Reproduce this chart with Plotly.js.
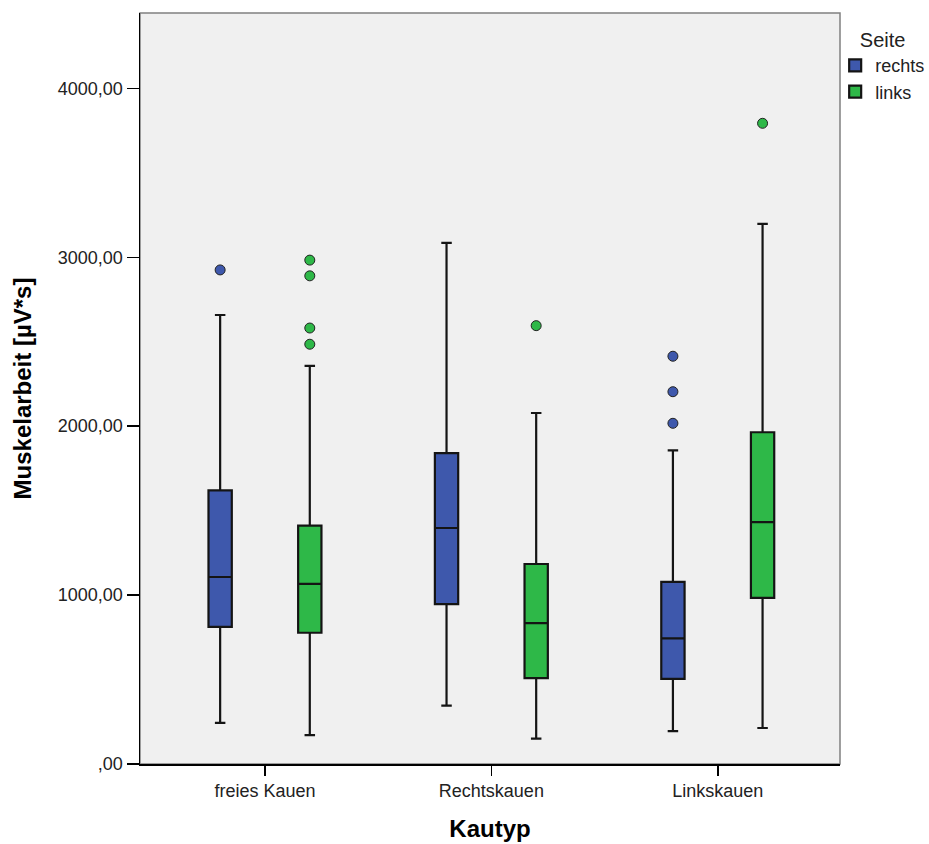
<!DOCTYPE html>
<html>
<head>
<meta charset="utf-8">
<script src="https://cdn.plot.ly/plotly-3.0.1.min.js"></script>
<style>
  html, body { margin: 0; padding: 0; background: #ffffff; }
  #chart { width: 929px; height: 844px; }
</style>
</head>
<body>
<div id="chart"></div>
<script>
// Muskelarbeit je Kautyp, getrennt nach Seite (rechts / links)
const categories = ['freies Kauen', 'Rechtskauen', 'Linkskauen'];

// Seite: rechts
const rechtsLower  = [244, 346, 195];
const rechtsQ1     = [812, 946, 504];
const rechtsMedian = [1107, 1397, 744];
const rechtsQ3     = [1620, 1841, 1078];
const rechtsUpper  = [2658, 3085, 1857];
const rechtsOutliers = [[2925], [], [2414, 2204, 2017]];

// Seite: links
const linksLower  = [171, 150, 213];
const linksQ1     = [777, 508, 984];
const linksMedian = [1066, 834, 1432];
const linksQ3     = [1411, 1184, 1964];
const linksUpper  = [2357, 2078, 3198];
const linksOutliers = [[2983, 2890, 2581, 2485], [2595], [3793]];

const yTickVals = [0, 1000, 2000, 3000, 4000];
const yTickText = [',00', '1000,00', '2000,00', '3000,00', '4000,00'];

const blue = '#3E58AC';
const green = '#2EB848';
const edge = '#141414';

function boxTrace(name, color, lower, q1, med, q3, upper, pts) {
  return {
    type: 'box',
    name: name,
    x: categories,
    q1: q1,
    median: med,
    q3: q3,
    lowerfence: lower,
    upperfence: upper,
    y: pts,
    boxpoints: 'outliers',
    pointpos: 0,
    jitter: 0,
    whiskerwidth: 0.45,
    fillcolor: color,
    line: { color: edge, width: 2.2 },
    marker: {
      color: color,
      size: 10,
      symbol: 'circle',
      line: { color: '#222222', width: 1 }
    },
    hoverinfo: 'skip'
  };
}

const data = [
  boxTrace('rechts', blue, rechtsLower, rechtsQ1, rechtsMedian, rechtsQ3, rechtsUpper, rechtsOutliers),
  boxTrace('links', green, linksLower, linksQ1, linksMedian, linksQ3, linksUpper, linksOutliers)
];

const tickFont = { family: 'Liberation Sans, Arial, sans-serif', size: 18, color: '#222222' };
const titleFont = { family: 'Liberation Sans, Arial, sans-serif', size: 24, color: '#000000', weight: 'bold' };

const layout = {
  width: 929,
  height: 844,
  margin: { l: 140, r: 89, t: 13, b: 80, autoexpand: false },
  paper_bgcolor: '#ffffff',
  plot_bgcolor: '#F0F0F0',
  boxmode: 'group',
  boxgap: 0.208,
  boxgroupgap: 0.74,
  showlegend: true,
  xaxis: {
    type: 'category',
    range: [-0.552, 2.54],
    showgrid: false,
    zeroline: false,
    showline: true,
    linecolor: '#000000',
    linewidth: 1.5,
    ticks: 'outside',
    ticklen: 10,
    tickwidth: 1.5,
    tickcolor: '#000000',
    tickfont: tickFont,
    title: { text: 'Kautyp', font: titleFont, standoff: 20 }
  },
  yaxis: {
    range: [0, 4446],
    tickvals: yTickVals,
    ticktext: yTickText,
    showgrid: false,
    zeroline: false,
    showline: true,
    linecolor: '#000000',
    linewidth: 1.5,
    ticks: 'outside',
    ticklen: 12,
    tickwidth: 1.5,
    tickcolor: '#000000',
    tickfont: tickFont,
    title: { text: 'Muskelarbeit [µV*s]', font: titleFont, standoff: 19 }
  },
  legend: {
    xref: 'container',
    x: 0.899,
    xanchor: 'left',
    yref: 'container',
    y: 0.975,
    yanchor: 'top',
    bgcolor: 'rgba(0,0,0,0)',
    itemwidth: 30,
    tracegroupgap: 0,
    font: { family: 'Liberation Sans, Arial, sans-serif', size: 18, color: '#222222' },
    title: { text: 'Seite', side: 'top center', font: { family: 'Liberation Sans, Arial, sans-serif', size: 20, color: '#222222' } }
  },
  shapes: [{
    type: 'rect', xref: 'paper', yref: 'paper',
    x0: 0, x1: 1, y0: 0, y1: 1,
    line: { color: '#808080', width: 1.5 },
    layer: 'below'
  }]
};

Plotly.newPlot('chart', data, layout, { staticPlot: true, displayModeBar: false });
</script>
</body>
</html>
